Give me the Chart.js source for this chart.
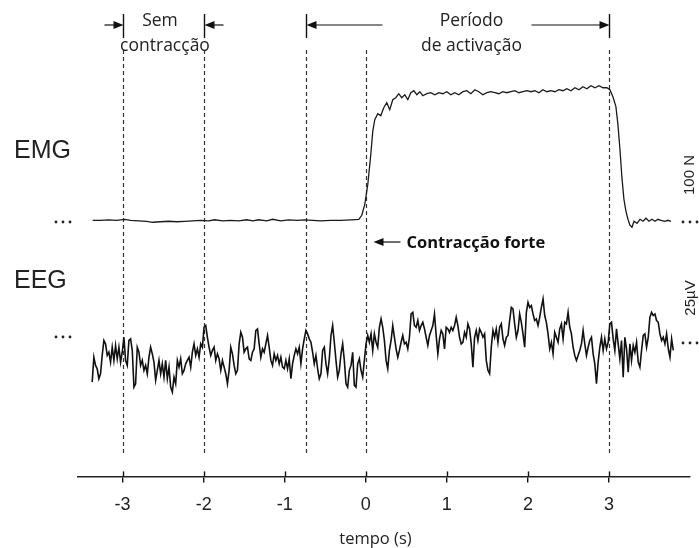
<!DOCTYPE html>
<html>
<head>
<meta charset="utf-8">
<title>EMG e EEG</title>
<script src="https://cdn.jsdelivr.net/npm/chart.js@4.4.0/dist/chart.umd.min.js"></script>
<style>
  html, body { margin: 0; padding: 0; background: #fff; }
  #caixa { width: 699px; height: 548px; }
</style>
</head>
<body>
<div id="caixa"><canvas id="sinais" width="699" height="548"></canvas></div>
<script>
// eixo do tempo (s)
const tickTempo = [-3, -2, -1, 0, 1, 2, 3];
// linhas verticais: inicio/fim sem contraccao, inicio periodo, contraccao, fim
const marcasTempo = [-3, -2, -0.74, 0, 3];

// EMG - forca (N)
const emgTempo = [
  -3.37, -3.272, -3.173, -3.074, -2.975, -2.901, -2.802, -2.704, -2.63, -2.531,
  -2.432, -2.333, -2.235, -2.136, -2.037, -1.938, -1.864, -1.765, -1.667, -1.568,
  -1.469, -1.395, -1.321, -1.222, -1.148, -1.049, -0.951, -0.852, -0.753, -0.654,
  -0.556, -0.432, -0.309, -0.185, -0.086,
  -0.049, -0.012, 0.025, 0.062, 0.086, 0.111, 0.148, 0.185, 0.222, 0.259,
  0.296, 0.333, 0.37, 0.407, 0.444, 0.481, 0.519, 0.556, 0.593, 0.63,
  0.667, 0.704,
  0.753, 0.802, 0.852, 0.901, 0.951, 1.0, 1.049, 1.099, 1.148, 1.198,
  1.247, 1.296, 1.346, 1.395, 1.444, 1.494, 1.543, 1.593, 1.642, 1.691,
  1.741, 1.79, 1.84, 1.889, 1.938, 1.988, 2.037, 2.086, 2.136, 2.185,
  2.235, 2.284, 2.333, 2.383, 2.432, 2.481, 2.531, 2.58, 2.63, 2.679,
  2.728, 2.778, 2.827, 2.877, 2.926, 2.975,
  3.012, 3.049, 3.086, 3.111, 3.136, 3.16, 3.185, 3.21, 3.235, 3.259,
  3.284, 3.309,
  3.346, 3.383, 3.42, 3.457, 3.494, 3.531, 3.568, 3.605,
  3.642, 3.691, 3.728, 3.765
];
const emgForca = [
  1, 1, 1.5, 1, 2, 1, 0.5, 0, -1, -0.5,
  0, -0.5, 0, 0.5, 1, 0.5, 1.5, 0.5, 1, 0.5,
  1.5, 0.5, 1.5, 0.5, 2, 0.5, 1.5, 1, 1.5, 1,
  0.5, 1, 1, 1.5, 2,
  6, 17, 37, 67, 90, 102, 108, 106, 114, 119,
  112, 122, 124, 128, 124, 127, 122, 129, 131, 127,
  130, 126,
  128, 129, 127, 129, 128, 130, 127, 129, 127, 130,
  131, 128, 132, 130, 127, 129, 130, 129, 128, 130,
  129, 130, 131, 129, 130, 131, 130, 131, 129, 132,
  130, 131, 130, 132, 131, 133, 131, 134, 132, 135,
  133, 136, 134, 136, 134, 134,
  132, 125, 115, 97, 72, 44, 22, 10, 2, -4,
  -6, 0,
  -2, 2, 0, 3, 0, 2, 0, 2,
  1, 0, 1, 0
];

// EEG - amostras (uV), intervalo de amostragem constante
const eegInicio = -3.375;
const eegPasso = 0.0206;
const eegValores = [
  -21.7, -9.2, -13.3, -15.0, -20.0, -17.5, -8.3, -0.8, -2.5, -8.3,
  -6.7, -11.7, -4.2, -10.8, -3.3, -10.0, -4.2, -11.7, -6.7, 0.8,
  -10.8, -13.3, -0.8, 0.0, -5.8, -24.2, -22.5, -4.2, -6.7, -13.3,
  -10.8, -15.8, -13.3, -17.5, -9.2, -4.2, -7.5, -11.7, -20.8, -15.8,
  -10.8, -17.5, -12.5, -19.2, -10.8, -20.0, -14.2, -24.2, -26.7, -19.2,
  -22.5, -10.8, -14.2, -10.0, -17.5, -15.8, -12.5, -10.8, -9.2, -14.2,
  -6.7, -2.5, -8.3, -5.0, -9.2, -2.5, -4.2, 5.8, 6.7, 0.8,
  -4.2, -8.3, -5.8, -4.2, -10.8, -7.5, -10.0, -15.8, -10.8, -14.2,
  -17.5, -22.5, -15.8, -4.2, -7.5, -13.3, -17.5, -15.8, -2.5, 3.3,
  0.8, -6.7, -5.0, -4.2, -10.0, -10.8, -6.7, -5.0, 4.2, 5.0,
  -2.5, -9.2, -5.0, -6.7, -2.5, 1.7, -4.2, -10.8, -13.3, -7.5,
  -10.8, -8.3, -12.5, -9.2, -14.2, -15.0, -10.8,
  -15.0, -10.0, -20.0, -12.5, -8.3, -5.0, -7.5, -4.2, -12.5, -5.0,
  0.0, 4.2, 2.5, 0.0, -1.7, -6.7, -12.5, -8.3, -15.0, -20.0,
  -17.5, -5.8, -4.2, -12.5, -17.5, -10.0, 1.7, 6.7, -1.7, -10.8,
  -19.2, -15.8, -7.5, -2.5, -10.8, -22.5, -24.2, -15.8, -13.3, -6.7,
  -23.3, -24.2, -12.5, -10.0, -15.8, -19.2, -10.8, -2.5, 1.7, -1.7,
  2.5, -5.8, 2.5, -1.7, -4.2, 5.8, 10.0, 5.8, -0.8, -10.8,
  -15.0, -5.8, -0.8, 6.7, 0.8, -5.0, -9.2, -5.8, -1.7, 1.7,
  -2.5, -1.7, -5.0, 0.8, 12.5, 13.3, 6.7, 5.8, 9.2, 4.2,
  6.7, 8.3, 5.0, 0.8, -3.3, 1.7, 4.2, 6.7, 12.5, 1.7,
  -7.5, 0.0, 4.2, 2.5, -5.0, 5.8, 5.0, 3.3, 5.8, 4.2,
  6.7, 10.8, 6.7, 0.8, -2.5, -1.7, 3.3, 0.8, 7.5, 5.0,
  -2.5, -14.2, 0.8, 4.2, -0.8, 5.0, 3.3,
  0.8, 2.5, -10.8, -15.8, -17.5, -4.2, 4.2, 0.8, 5.0, -1.7,
  5.8, 7.5, 0.0, -3.3, 0.8, 1.7, 9.2, 15.8, 15.0, 7.5,
  0.8, 4.2, 12.5, 8.3, 2.5, -4.2, 13.3, 18.3, 15.8, 16.7,
  12.5, 9.2, 10.0, 6.7, 10.8, 15.8, 20.0, 11.7, 8.3, 2.5,
  -5.0, -1.7, -7.5, 3.3, 0.8, -1.7, 5.0, 7.5, 0.0, 8.3,
  7.5, 13.3, 5.8, 2.5, -4.2, -8.3, -10.8, -8.3, -5.8, -2.5,
  4.2, -2.5, -8.3, -4.2, -0.8, 0.8, -7.5, -12.5, -22.5, -11.7,
  -4.2, 0.8, -5.8, 0.0, -5.0, -1.7, 7.5, 8.3, 0.0, -5.8,
  5.0, -2.5, -10.0, -0.8, -19.2, 0.8, -5.0, -16.7, -2.5, -10.8,
  -3.3, -6.7, -1.7, -11.7, -14.2, -5.8, 1.7, 2.5, -4.2, 0.8,
  10.8, 13.3, 11.7, 12.5, 9.2, 8.3, 2.5, -0.8, 0.8, -2.5,
  2.5, -5.0, -9.2, 0.0, -5.8
];

const emgDados = emgTempo.map((t, i) => ({ x: t, y: emgForca[i] }));
const eegDados = eegValores.map((v, i) => ({ x: eegInicio + i * eegPasso, y: v }));

const TEXTO = '#222';
const LINHA = '#333';

// seta horizontal com ponta cheia em x2
function seta(ctx, x1, y, x2) {
  const dir = x2 > x1 ? 1 : -1;
  ctx.beginPath();
  ctx.moveTo(x1, y);
  ctx.lineTo(x2 - dir * 8, y);
  ctx.stroke();
  ctx.beginPath();
  ctx.moveTo(x2, y);
  ctx.lineTo(x2 - dir * 10, y - 4);
  ctx.lineTo(x2 - dir * 10, y + 4);
  ctx.closePath();
  ctx.fill();
}

function pontinhos(ctx, xs, y) {
  xs.forEach(x => {
    ctx.beginPath();
    ctx.arc(x, y, 1.4, 0, Math.PI * 2);
    ctx.fill();
  });
}

function textoVertical(ctx, txt, x, y) {
  ctx.save();
  ctx.translate(x, y);
  ctx.rotate(-Math.PI / 2);
  ctx.textAlign = 'center';
  ctx.textBaseline = 'middle';
  ctx.fillText(txt, 0, 0);
  ctx.restore();
}

const anotacoes = {
  id: 'anotacoes',
  beforeDatasetsDraw(chart) {
    const { ctx } = chart;
    const sx = chart.scales.x;
    ctx.save();
    ctx.strokeStyle = LINHA;
    ctx.lineWidth = 1.2;
    ctx.setLineDash([4, 3]);
    marcasTempo.forEach(t => {
      const px = Math.round(sx.getPixelForValue(t)) + 0.5;
      ctx.beginPath();
      ctx.moveTo(px, 50);
      ctx.lineTo(px, 456);
      ctx.stroke();
    });
    ctx.restore();
  },
  afterDraw(chart) {
    const { ctx, chartArea } = chart;
    const sx = chart.scales.x;
    const px = t => Math.round(sx.getPixelForValue(t)) + 0.5;
    ctx.save();
    ctx.strokeStyle = '#111';
    ctx.fillStyle = '#111';
    ctx.lineWidth = 1.4;

    // marcas do eixo para cima
    tickTempo.forEach(t => {
      ctx.beginPath();
      ctx.moveTo(px(t), chartArea.bottom - 5);
      ctx.lineTo(px(t), chartArea.bottom);
      ctx.stroke();
    });

    // barras verticais no topo
    [-3, -2, -0.74, 3].forEach(t => {
      ctx.beginPath();
      ctx.moveTo(px(t), 14);
      ctx.lineTo(px(t), 38);
      ctx.stroke();
    });

    // setas
    ctx.lineWidth = 1.2;
    seta(ctx, px(-3) - 19, 25, px(-3));
    seta(ctx, px(-2) + 19, 25, px(-2));
    seta(ctx, px(-0.74) + 76, 25, px(-0.74));
    seta(ctx, px(3) - 78, 25, px(3));

    // textos do topo
    ctx.fillStyle = TEXTO;
    ctx.font = '17.5px "Open Sans"';
    ctx.textAlign = 'center';
    ctx.textBaseline = 'middle';
    const meio = (px(-3) + px(-2)) / 2;
    ctx.fillText('Sem', meio - 4, 21);
    ctx.fillText('contracção', meio + 1, 46);
    ctx.fillText('Período', px(1.3), 21);
    ctx.fillText('de activação', px(1.3), 46);

    // contraccao forte
    ctx.fillStyle = '#111';
    seta(ctx, px(0) + 34, 242, px(0) + 7);
    ctx.font = 'bold 16.5px "Open Sans"';
    ctx.textAlign = 'left';
    ctx.fillText('Contracção forte', px(0) + 40, 243);

    // nomes dos sinais
    ctx.fillStyle = TEXTO;
    ctx.font = '25px "Liberation Sans"';
    ctx.textAlign = 'left';
    ctx.fillText('EMG', 14, 151);
    ctx.fillText('EEG', 14, 281);

    // reticencias
    ctx.fillStyle = '#222';
    pontinhos(ctx, [56, 63, 70], 222);
    pontinhos(ctx, [56, 63, 70], 337);
    pontinhos(ctx, [683, 690, 697], 222);
    pontinhos(ctx, [683, 690, 697], 343);

    // escalas
    ctx.font = '15px "Liberation Sans"';
    textoVertical(ctx, '100 N', 690, 175);
    textoVertical(ctx, '25µV', 691, 298);

    // titulo do eixo
    ctx.font = '16.5px "Open Sans"';
    ctx.textAlign = 'center';
    ctx.fillText('tempo (s)', px(0.12), 539);
    ctx.restore();
  }
};

new Chart(document.getElementById('sinais'), {
  type: 'line',
  data: {
    datasets: [
      {
        label: 'EMG',
        data: emgDados,
        yAxisID: 'emg',
        borderColor: '#1a1a1a',
        borderWidth: 1.3,
        pointRadius: 0,
        tension: 0
      },
      {
        label: 'EEG',
        data: eegDados,
        yAxisID: 'eeg',
        borderColor: '#111',
        borderWidth: 1.6,
        pointRadius: 0,
        tension: 0
      }
    ]
  },
  options: {
    responsive: false,
    animation: false,
    events: [],
    layout: { padding: { left: 78, right: 9, top: 10, bottom: 20 } },
    plugins: { legend: { display: false }, tooltip: { enabled: false } },
    scales: {
      x: {
        type: 'linear',
        min: -3.55,
        max: 4.0,
        afterBuildTicks: s => { s.ticks = tickTempo.map(v => ({ value: v })); },
        border: { display: true, color: '#222', width: 1.5 },
        grid: { drawOnChartArea: false, drawTicks: true, tickLength: 6, color: '#111', lineWidth: 1.4 },
        ticks: {
          color: TEXTO,
          padding: 12,
          maxRotation: 0,
          font: { family: 'Liberation Sans', size: 18 }
        }
      },
      emg: { type: 'linear', display: false, min: -256, max: 212 },
      eeg: { type: 'linear', display: false, min: -69, max: 165 }
    }
  },
  plugins: [anotacoes]
});
</script>
</body>
</html>
